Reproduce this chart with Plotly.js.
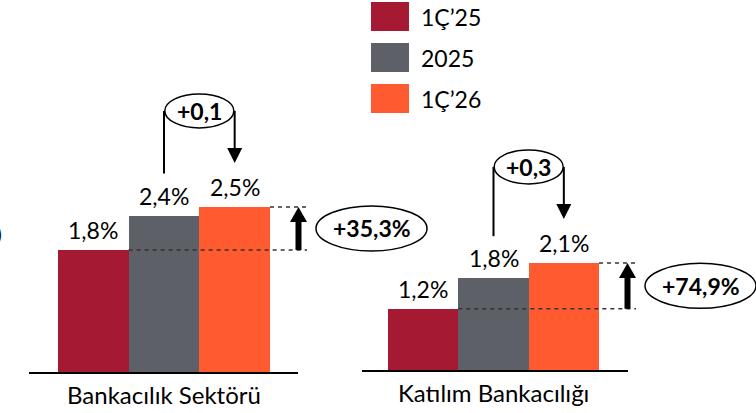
<!DOCTYPE html>
<html><head><meta charset="utf-8">
<script src="https://cdn.plot.ly/plotly-3.0.1.min.js"></script>
<style>html,body{margin:0;padding:0;background:#fff}</style>
</head><body><div id="chart" style="width:756px;height:413px"></div>
<script>
// ---- data ----
const series = ["1Ç’25", "2025", "1Ç’26"];
const seriesColors = ["#A51932", "#5E6068", "#FF5A30"];
const groups = ["Bankacılık Sektörü", "Katılım Bankacılığı"];
const sectorValues = [1.84, 2.36, 2.49];
const participationValues = [1.20, 1.80, 2.10];
const diffLabels = ["+0,1", "+0,3"];
const growthLabels = ["+35,3%", "+74,9%"];

// ---- layout geometry (pixels) ----
const W = 756, H = 413;
const FONT = "Lato, 'Open Sans', sans-serif";
const geo = [
  {x0: 29, x1: 298, barL: 58, barR: 270, base: 372, scale: 66.3},
  {x0: 362, x1: 628, barL: 388, barR: 599, base: 370, scale: 51}
];
geo.forEach(g => {
  g.cat = (g.barR - g.barL) / 3;
  g.r0 = -0.5 - (g.barL - g.x0) / g.cat;
  g.r1 = 2.5 + (g.x1 - g.barR) / g.cat;
});
const P = x => x / W;
const Q = y => 1 - y / H;
const dx = (g, i) => g.x0 + (i - g.r0) * g.cat;
const dy = (g, v) => g.base - v * g.scale;
const fmt = v => v.toFixed(1).replace('.', ',') + '%';

const allValues = [sectorValues, participationValues];
const traces = [];
const shapes = [];
const annotations = [];
const black = '#000';

function label(xpx, ypx, text, size, extra) {
  annotations.push(Object.assign({
    xref: 'paper', yref: 'paper', x: P(xpx), y: Q(ypx), text: text,
    showarrow: false, xanchor: 'center', yanchor: 'middle',
    font: {family: FONT, size: size, color: black}
  }, extra || {}));
}
function poly(pts, color) {
  shapes.push({type: 'path', xref: 'paper', yref: 'paper',
    path: 'M' + pts.map(p => P(p[0]) + ',' + Q(p[1])).join(' L') + ' Z',
    fillcolor: color, line: {width: 0}});
}

allValues.forEach((vals, gi) => {
  const g = geo[gi];
  const xa = gi === 0 ? 'x' : 'x2';
  const ya = gi === 0 ? 'y' : 'y2';
  traces.push({
    type: 'bar', x: series, y: vals, name: groups[gi],
    xaxis: xa, yaxis: ya,
    marker: {color: seriesColors, line: {width: 0}},
    hoverinfo: 'skip', showlegend: false
  });
  // value labels
  vals.forEach((v, i) => {
    label(dx(g, i), dy(g, v), fmt(v), 23, {yanchor: 'bottom', yshift: 4});
  });
  // category label
  label(dx(g, 1), g.base, groups[gi], 24, {yanchor: 'top', yshift: -6});

  // difference bubble (2025 -> 1Ç'26)
  const cx = dx(g, 1.5), cy = dy(g, vals[2]) - 96;
  const xl = dx(g, 1), xr = dx(g, 2);
  const tipY = dy(g, vals[2]) - 44;
  shapes.push({type: 'line', xref: 'paper', yref: 'paper',
    x0: P(xl), x1: P(xl), y0: Q(dy(g, vals[1]) - 42), y1: Q(cy),
    line: {color: black, width: 2}});
  shapes.push({type: 'line', xref: 'paper', yref: 'paper',
    x0: P(xr), x1: P(xr), y0: Q(cy), y1: Q(tipY - 14),
    line: {color: black, width: 2}});
  poly([[xr - 7.5, tipY - 15], [xr + 7.5, tipY - 15], [xr, tipY]], black);
  shapes.push({type: 'circle', xref: 'paper', yref: 'paper',
    x0: P(cx - 34.5), x1: P(cx + 34.5), y0: Q(cy + 17), y1: Q(cy - 17),
    fillcolor: '#fff', line: {color: black, width: 1.5}});
  label(cx, cy, '<b>' + diffLabels[gi] + '</b>', 23);

  // growth indicator (1Ç'25 -> 1Ç'26)
  const endX = dx(g, 2.5) + 37;
  const yTop = dy(g, vals[2]), yBot = dy(g, vals[0]);
  shapes.push({type: 'line', xref: 'paper', yref: 'paper',
    x0: P(dx(g, 2.5)), x1: P(endX), y0: Q(yTop), y1: Q(yTop),
    line: {color: '#333', width: 1.5, dash: '4px,4px'}});
  shapes.push({type: 'line', xref: 'paper', yref: 'paper',
    x0: P(dx(g, 0.5)), x1: P(endX), y0: Q(yBot), y1: Q(yBot),
    line: {color: '#333', width: 1.5, dash: '4px,4px'}});
  const ax = dx(g, 2.5) + 28.5;
  poly([[ax - 3, yBot], [ax + 3, yBot], [ax + 3, yTop + 14], [ax - 3, yTop + 14]], black);
  poly([[ax - 8.5, yTop + 15], [ax + 8.5, yTop + 15], [ax, yTop]], black);
  const ecx = ax + 73, ecy = (yTop + yBot) / 2;
  shapes.push({type: 'circle', xref: 'paper', yref: 'paper',
    x0: P(ecx - 55.5), x1: P(ecx + 55.5), y0: Q(ecy + 22.5), y1: Q(ecy - 22.5),
    fillcolor: '#fff', line: {color: black, width: 1.5}});
  label(ecx, ecy, '<b>' + growthLabels[gi] + '</b>', 23);
});

// custom legend
series.forEach((s, i) => {
  const top = 2 + i * 41;
  shapes.push({type: 'rect', xref: 'paper', yref: 'paper',
    x0: P(371), x1: P(409), y0: Q(top + 29), y1: Q(top),
    fillcolor: seriesColors[i], line: {width: 0}});
  label(419, top + 15, s, 23, {xanchor: 'left'});
});
// clipped glyph at the left edge
label(0, 233, ')', 22, {xanchor: 'right', xshift: 4});

const xCommon = {type: 'category', showline: true, linecolor: black, linewidth: 2,
  ticks: '', showticklabels: false, showgrid: false, zeroline: false, fixedrange: true};
const yCommon = {visible: false, showgrid: false, zeroline: false, fixedrange: true};

const layout = {
  width: W, height: H,
  margin: {l: 0, r: 0, t: 0, b: 0},
  paper_bgcolor: '#fff', plot_bgcolor: 'rgba(0,0,0,0)',
  font: {family: FONT, color: black},
  showlegend: false, bargap: 0,
  xaxis: Object.assign({}, xCommon, {domain: [P(geo[0].x0), P(geo[0].x1)], range: [geo[0].r0, geo[0].r1], anchor: 'y'}),
  yaxis: Object.assign({}, yCommon, {domain: [Q(geo[0].base), 1], range: [0, geo[0].base / geo[0].scale], anchor: 'x'}),
  xaxis2: Object.assign({}, xCommon, {domain: [P(geo[1].x0), P(geo[1].x1)], range: [geo[1].r0, geo[1].r1], anchor: 'y2'}),
  yaxis2: Object.assign({}, yCommon, {domain: [Q(geo[1].base), 1], range: [0, geo[1].base / geo[1].scale], anchor: 'x2'}),
  shapes: shapes,
  annotations: annotations
};
Plotly.newPlot('chart', traces, layout, {staticPlot: true, displayModeBar: false});
</script>
</body></html>
